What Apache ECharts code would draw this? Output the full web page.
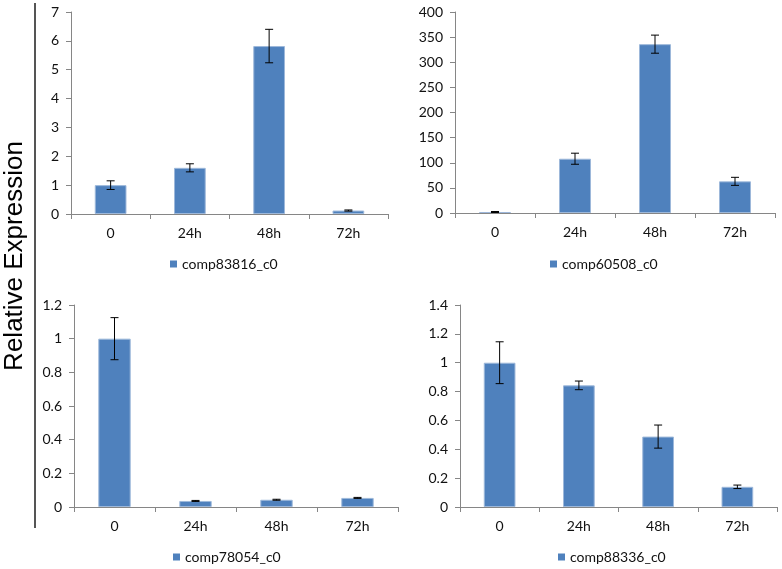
<!DOCTYPE html>
<html>
<head>
<meta charset="utf-8">
<script src="https://cdn.jsdelivr.net/npm/echarts@6/dist/echarts.min.js"></script>
<style>
html,body{margin:0;padding:0;background:#fff;}
#c{width:782px;height:569px;}
</style>
</head>
<body>
<div id="c"></div>
<script>
const categories = ['0', '24h', '48h', '72h'];

const names = ['comp83816_c0', 'comp60508_c0', 'comp78054_c0', 'comp88336_c0'];

const values83816 = [1.0, 1.6, 5.82, 0.12];
const errors83816 = [0.15, 0.14, 0.58, 0.02];

const values60508 = [2, 108, 336, 63];
const errors60508 = [1, 11, 18, 8];

const values78054 = [1.0, 0.036, 0.043, 0.054];
const errors78054 = [0.125, 0.003, 0.003, 0.003];

const values88336 = [1.0, 0.843, 0.488, 0.14];
const errors88336 = [0.145, 0.03, 0.08, 0.012];

const yMax = [7, 400, 1.2, 1.4];
const yInterval = [1, 50, 0.2, 0.2];

const allValues = [values83816, values60508, values78054, values88336];
const allErrors = [errors83816, errors60508, errors78054, errors88336];

const grids = [
  {left: 71, top: 12, width: 317, height: 202},
  {left: 455, top: 12, width: 320, height: 201},
  {left: 74, top: 305, width: 324, height: 202},
  {left: 460, top: 305, width: 317, height: 202}
];
const legendPos = [
  {left: 170, top: 257},
  {left: 550, top: 257},
  {left: 173, top: 550},
  {left: 558, top: 550}
];

const FONT = 'Lato';
const axisColor = '#868686';
const barColor = '#4F81BD';
const textColor = '#111';

const xAxes = [], yAxes = [], series = [], legends = [];
for (let g = 0; g < 4; g++) {
  xAxes.push({
    type: 'category', gridIndex: g, data: categories,
    axisLine: {show: true, lineStyle: {color: axisColor, width: 1}},
    axisTick: {show: true, length: 5, lineStyle: {color: axisColor}},
    axisLabel: {fontFamily: FONT, fontSize: 14, color: textColor, margin: 12}
  });
  yAxes.push({
    type: 'value', gridIndex: g, min: 0, max: yMax[g], interval: yInterval[g],
    axisLine: {show: true, lineStyle: {color: axisColor, width: 1}},
    axisTick: {show: true, length: 5, lineStyle: {color: axisColor}},
    splitLine: {show: false},
    axisLabel: {fontFamily: FONT, fontSize: 14, color: textColor, margin: 12}
  });
  series.push({
    name: names[g], type: 'bar', xAxisIndex: g, yAxisIndex: g,
    data: allValues[g], barWidth: '40%',
    itemStyle: {color: barColor, borderColor: '#9db8da', borderWidth: 1}
  });
  const errData = allValues[g].map((v, i) => [i, v - allErrors[g][i], v + allErrors[g][i]]);
  series.push({
    name: names[g] + '_err', type: 'custom', xAxisIndex: g, yAxisIndex: g,
    data: errData, z: 10,
    encode: {x: 0, y: [1, 2]},
    renderItem: function (params, api) {
      const x = api.value(0);
      const lo = api.coord([x, api.value(1)]);
      const hi = api.coord([x, api.value(2)]);
      const cap = 4;
      const style = {stroke: '#000', lineWidth: 1};
      return {
        type: 'group',
        children: [
          {type: 'line', shape: {x1: lo[0], y1: lo[1], x2: hi[0], y2: hi[1]}, style: style},
          {type: 'line', shape: {x1: lo[0] - cap, y1: lo[1], x2: lo[0] + cap, y2: lo[1]}, style: style},
          {type: 'line', shape: {x1: hi[0] - cap, y1: hi[1], x2: hi[0] + cap, y2: hi[1]}, style: style}
        ]
      };
    }
  });
  legends.push({
    data: [names[g]], left: legendPos[g].left, top: legendPos[g].top,
    icon: 'rect', itemWidth: 7, itemHeight: 7, itemGap: 5, padding: 0,
    selectedMode: false,
    itemStyle: {color: barColor, borderWidth: 0},
    textStyle: {fontFamily: FONT, fontSize: 14, color: textColor, padding: [0, 0, 0, 0]}
  });
}

const chart = echarts.init(document.getElementById('c'));
chart.setOption({
  animation: false,
  backgroundColor: '#fff',
  grid: grids,
  xAxis: xAxes,
  yAxis: yAxes,
  legend: legends,
  series: series,
  graphic: [
    {type: 'line', shape: {x1: 35, y1: 3, x2: 35, y2: 528}, style: {stroke: '#555', lineWidth: 2}},
    {type: 'text', x: 15, y: 256, rotation: Math.PI / 2,
     style: {text: 'Relative Expression', fontFamily: 'Liberation Sans', fontSize: 26, fill: '#000',
             align: 'center', verticalAlign: 'middle'}}
  ]
});
</script>
</body>
</html>
